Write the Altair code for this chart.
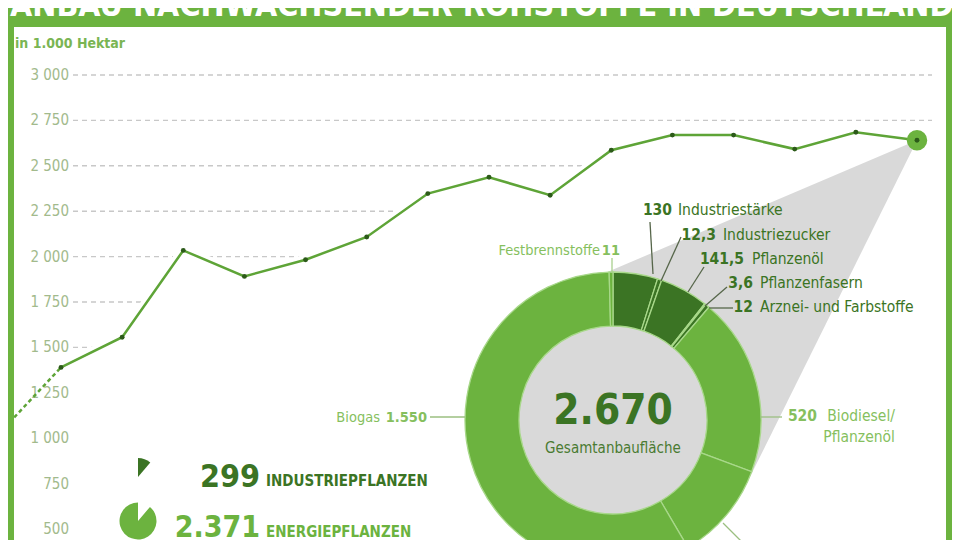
import pandas as pd
import altair as alt

FONT = "DejaVu Sans Condensed"
GREEN = "#6cb33f"
LIGHT = "#86bf5e"
DARK = "#3b7424"
LINE = "#5ea437"
GRAY = "#d9d9d9"

# picture pixel -> chart pixel (8px page margin + 65px left padding)
OX, OY = 73, 8

# Anbaufläche nachwachsender Rohstoffe in 1.000 ha
years = list(range(2004, 2020))
area = [1030, 1390, 1556, 2034, 1891, 1983, 2108, 2347, 2437, 2338,
        2586, 2669, 2669, 2592, 2685, 2641]
ticks = [500, 750, 1000, 1250, 1500, 1750, 2000, 2250, 2500, 2750, 3000]

# donut, clockwise from 12 o'clock
segments = ["Industriestärke", "Industriezucker", "Pflanzenöl", "Pflanzenfasern",
            "Arznei- und Farbstoffe", "Biodiesel/Pflanzenöl", "Bioethanol",
            "Biogas", "Festbrennstoffe"]
seg_values = [130, 12.3, 141.5, 3.6, 12, 520, 290, 1550, 11]
seg_groups = ["Industrie"] * 5 + ["Energie"] * 4

groups = ["Industriepflanzen", "Energiepflanzen"]
group_values = [299, 2371]
total = 2670

title = "ANBAU NACHWACHSENDER ROHSTOFFE IN DEUTSCHLAND"
unit = "in 1.000 Hektar"
center_label = "Gesamtanbaufläche"


def de(v):
    s = f"{v:,.1f}" if v != int(v) else f"{int(v):,}"
    return s.replace(",", "X").replace(".", ",").replace("X", ".")


line_df = pd.DataFrame({"year": years, "area": area})
solid_df = line_df[line_df.year >= 2005]
dash_df = line_df[line_df.year <= 2005]
last_df = line_df[line_df.year == 2019]
tick_df = pd.DataFrame({"tick": ticks})
seg_df = pd.DataFrame({"segment": segments, "value": seg_values,
                       "group": seg_groups, "idx": range(len(segments))})
grp_df = pd.DataFrame({"group": groups, "value": group_values, "idx": [0, 1]})
one = pd.DataFrame({"a": [0]})

xscale = alt.Scale(domain=[2005, 2019], range=[61 - OX, 917 - OX])
yscale = alt.Scale(domain=[500, 3000], range=[529 - OY, 75 - OY], nice=False)
X = alt.X("year:Q", scale=xscale, axis=None)
Y = alt.Y("area:Q", scale=yscale, axis=None, stack=None)
T = alt.Y("tick:Q", scale=yscale, axis=None)


def text(t, x, y, size=15.5, color=DARK, weight="normal", align="left"):
    return alt.Chart(one).mark_text(
        text=t, align=align, baseline="alphabetic", font=FONT,
        fontSize=size, fontWeight=weight, color=color
    ).encode(x=alt.value(x - OX), y=alt.value(y - OY))


def rule(x1, y1, x2, y2, color="#56664a", width=1.3):
    return alt.Chart(one).mark_rule(color=color, strokeWidth=width).encode(
        x=alt.value(x1 - OX), y=alt.value(y1 - OY),
        x2=alt.value(x2 - OX), y2=alt.value(y2 - OY))


def rect(x1, y1, x2, y2, color=GREEN):
    return alt.Chart(one).mark_rect(color=color).encode(
        x=alt.value(x1 - OX), y=alt.value(y1 - OY),
        x2=alt.value(x2 - OX), y2=alt.value(y2 - OY))


CX, CY = 613 - OX, 420 - OY

# dashed gridlines, hidden under the line by a white area
grid_style = dict(color="#c8c8c8", strokeWidth=1.4, strokeDash=[5, 4])
grid_top = alt.Chart(tick_df).transform_filter(alt.datum.tick > max(area)).mark_rule(
    **grid_style).encode(y=T, x=alt.value(73 - OX), x2=alt.value(932 - OX))
grid_low = alt.Chart(tick_df).transform_filter(alt.datum.tick <= max(area)).mark_rule(
    **grid_style).encode(y=T, x=alt.value(73 - OX), x2=alt.value(915 - OX))
under = alt.Chart(solid_df).mark_area(fill="white", opacity=1, orient="vertical").encode(
    x=X, y=Y, y2=alt.Y2(datum=0))
halo = alt.Chart(solid_df).mark_line(color="white", strokeWidth=10).encode(x=X, y=Y)

# y tick labels "3 000"
ylabels = alt.Chart(tick_df).transform_calculate(
    label="replace(format(datum.tick, ','), ',', ' ')"
).mark_text(align="right", baseline="middle", font=FONT, fontSize=15, color="#a2ba8c").encode(
    y=T, x=alt.value(69 - OX), text="label:N")

wedge = alt.Chart(last_df).mark_arc(radius=390, theta=3.602, theta2=4.31, fill=GRAY).encode(x=X, y=Y)
disc = alt.Chart(one).mark_arc(radius=147, theta=0, theta2=6.2832, fill=GRAY).encode(
    x=alt.value(CX), y=alt.value(CY))

ring = alt.Chart(seg_df).mark_arc(radius=148, radius2=94, stroke="#a8d88a", strokeWidth=1.3).encode(
    theta=alt.Theta("value:Q", stack=True),
    order=alt.Order("idx:Q"),
    color=alt.Color("group:N", scale=alt.Scale(domain=["Industrie", "Energie"],
                                               range=[DARK, GREEN]), legend=None),
    x=alt.value(CX), y=alt.value(CY))

leaders = [
    rule(650, 222, 653, 274), rule(681, 237, 661, 281), rule(704, 267, 688, 292),
    rule(727, 287, 705, 306), rule(709, 308, 733, 308),
    rule(612, 258, 612, 273, color="#a9cf8e"),
    rule(760, 417, 782, 417, color="#9bbf80"),
    rule(430, 417, 465, 417, color="#9bbf80"),
    rule(723, 523, 742, 542, color="#9bbf80"),
]

labels = [
    text(de(seg_values[0]), 672, 215, weight="bold", align="right"),
    text(segments[0], 678, 215),
    text(de(seg_values[1]), 716, 240, weight="bold", align="right"),
    text(segments[1], 723, 240),
    text(de(seg_values[2]), 744, 264, weight="bold", align="right"),
    text(segments[2], 752, 264),
    text(de(seg_values[3]), 753, 288, weight="bold", align="right"),
    text(segments[3], 760, 288),
    text(de(seg_values[4]), 753, 312, weight="bold", align="right"),
    text(segments[4], 760, 312),
    text(de(seg_values[8]), 620, 255, size=14.5, color=LIGHT, weight="bold", align="right"),
    text(segments[8], 600, 255, size=14.5, color=LIGHT, align="right"),
    text(de(seg_values[5]), 817, 421, color=LIGHT, weight="bold", align="right"),
    text(segments[5].split("/")[0] + "/", 895, 421, color=LIGHT, align="right"),
    text(segments[5].split("/")[1], 895, 442, color=LIGHT, align="right"),
    text(segments[7], 380, 422, size=14.5, color=LIGHT, align="right"),
    text(de(1550), 427, 422, size=14.5, color=LIGHT, weight="bold", align="right"),
    text(de(total), 613, 424, size=42, weight="bold", align="center"),
    text(center_label, 613, 453, size=15, color="#4a7b32", align="center"),
]

dashed = alt.Chart(dash_df).mark_line(color=LINE, strokeWidth=2.5, strokeDash=[4, 3]).encode(x=X, y=Y)
line = alt.Chart(solid_df).mark_line(color=LINE, strokeWidth=2.5).encode(x=X, y=Y)
big_dot = alt.Chart(last_df).mark_circle(size=420, color=GREEN, opacity=1).encode(x=X, y=Y)
dots = alt.Chart(solid_df).mark_circle(size=24, color="#2c5a19", opacity=1).encode(x=X, y=Y)

icon_ind = alt.Chart(grp_df).mark_arc(radius=19, fill=DARK).encode(
    theta=alt.Theta("value:Q", stack=True), order=alt.Order("idx:Q"),
    opacity=alt.condition(alt.datum.group == groups[0], alt.value(1), alt.value(0)),
    x=alt.value(138 - OX), y=alt.value(477 - OY))
icon_en = alt.Chart(grp_df).mark_arc(radius=18.5, fill=GREEN).encode(
    theta=alt.Theta("value:Q", stack=True), order=alt.Order("idx:Q"),
    opacity=alt.condition(alt.datum.group == groups[1], alt.value(1), alt.value(0)),
    x=alt.value(138 - OX), y=alt.value(521 - OY))

legend = [
    text(de(group_values[0]), 260, 487, size=32, weight="bold", align="right"),
    text(groups[0].upper(), 266, 486, size=15, weight="bold"),
    text(de(group_values[1]), 260, 537, size=30, color=GREEN, weight="bold", align="right"),
    text(groups[1].upper(), 266, 537, size=15, color=GREEN, weight="bold"),
]

frame = [
    rect(0, 0, 14, 600), rect(946, 0, 952, 600), rect(0, 0, 952, 27),
    text(title, 10, 16, size=32, color="white", weight="bold"),
    text(unit, 15, 48, size=14, color="#7ab553", weight=600),
]

chart = alt.layer(
    grid_top, grid_low, under, halo, ylabels, wedge, disc, ring, *leaders, *labels,
    dashed, line, big_dot, dots, icon_ind, icon_en, *legend, *frame
).resolve_scale(
    theta="independent", color="independent"
).properties(
    width=879, height=552,
    autosize=alt.AutoSizeParams(type="none"),
    padding={"left": 65, "top": 0, "right": 0, "bottom": 0},
    background="white"
).configure_view(stroke=None)

chart.save("out.html", embed_options={"renderer": "svg", "actions": False})
